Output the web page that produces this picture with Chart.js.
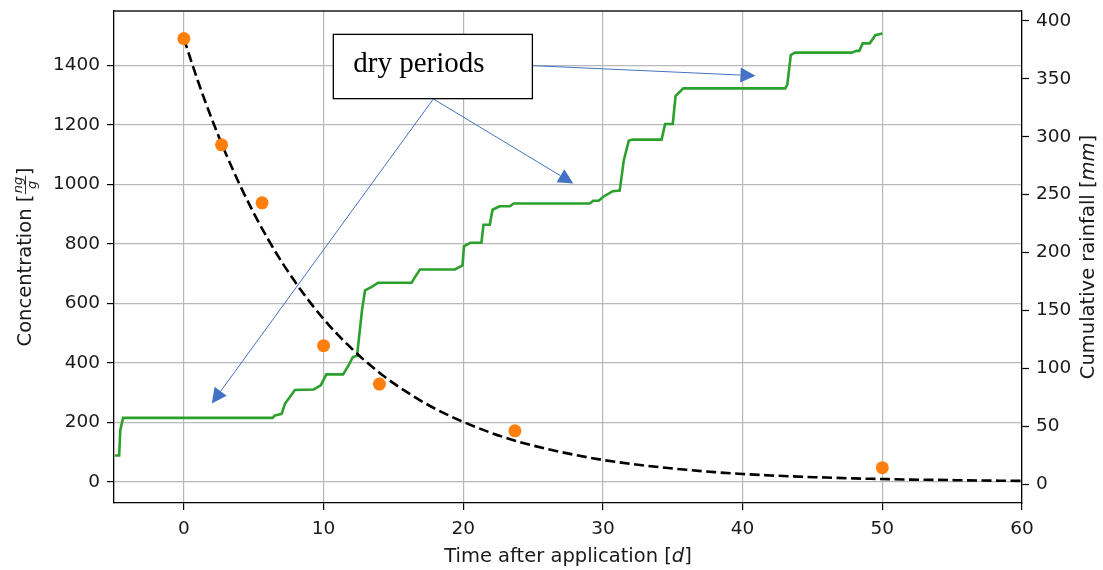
<!DOCTYPE html>
<html>
<head>
<meta charset="utf-8">
<script src="https://cdn.jsdelivr.net/npm/chart.js@4.4.1/dist/chart.umd.min.js"></script>
<style>
  html, body { margin: 0; padding: 0; background: #fff; }
  #wrap { width: 1103px; height: 570px; position: relative; }
</style>
</head>
<body>
<div id="wrap"><canvas id="chart"></canvas></div>
<script>
// measured residue concentration (ng/g) on sampling days
const sampleDays = [0, 2.7, 5.6, 10, 14, 23.7, 50];
const sampleConc = [1490, 1133, 938, 458, 329, 172, 48];

// first-order decay fit
const fitDays = [0, 1, 2, 3, 4, 5, 6, 7, 8, 9, 10, 11, 12, 13, 14, 15, 16, 17, 18, 19, 20,
                 22, 24, 26, 28, 30, 32, 34, 36, 38, 40, 42, 44, 46, 48, 50, 52, 54, 56, 58, 60];
const fitConc = [1490, 1348, 1220, 1104, 999, 904, 818, 740, 670, 606, 548, 496, 449, 406, 367, 332, 301, 272, 246, 223, 202,
                 165, 135, 111, 91, 74, 61, 50, 41, 33, 27, 22, 18, 15, 12, 10, 8, 7, 5.5, 4.5, 3.7];

// cumulative rainfall (mm)
const rainDays = [-4.95, -4.63, -4.55, -4.35, 6.35, 6.5, 7.0, 7.25, 7.5, 7.95, 9.3, 9.8, 10.2, 11.4, 11.8, 12.1, 12.4,
                  12.75, 12.97, 13.45, 13.9, 16.3, 16.5, 16.9, 19.4, 19.95, 20.05, 20.5, 21.3, 21.45, 21.9, 22.1, 22.6,
                  23.35, 23.6, 29.05, 29.3, 29.7, 30.0, 30.7, 31.2, 31.5, 31.85, 32.1, 34.2, 34.45, 35.0, 35.2, 35.75,
                  43.05, 43.2, 43.45, 43.75, 47.8, 48.15, 48.35, 48.6, 49.1, 49.5, 50.0];
const rainMm = [25, 25, 47, 57.5, 57.5, 59.5, 61, 70, 74, 81.5, 82, 85.5, 95, 95, 103, 110, 111,
                150, 167.5, 170.5, 174, 174, 178, 185.5, 185.5, 189, 205.5, 208.5, 208.5, 224, 224, 237, 240,
                240, 242.4, 242.4, 244.7, 244.7, 248, 253, 253.5, 280, 296.5, 297.5, 297.5, 311, 311, 335, 341.7,
                341.7, 345, 370.5, 372.5, 372.5, 374, 374, 380.5, 380.5, 387.5, 389];

const xTicks = [0, 10, 20, 30, 40, 50, 60];
const concTicks = [0, 200, 400, 600, 800, 1000, 1200, 1400];
const rainTicks = [0, 50, 100, 150, 200, 250, 300, 350, 400];

// callout, in day / concentration units
const noteText = 'dry periods';
const noteBox = { x0: 10.7, x1: 24.95, y0: 1504, y1: 1288 };
const noteAnchor = { x: 12.13, y: 1379 };
const noteArrows = [
  [24.95, 1399, 40.92, 1365],
  [17.86, 1287, 27.88, 1003],
  [17.86, 1287, 2.0, 264]
];

const sans = '"DejaVu Sans", sans-serif';
const textColor = '#1a1a1a';
const gridColor = '#b8b8b8';
const arrowColor = '#4472c4';
const titleSize = 19.5;

const pts = (xs, ys) => xs.map((v, i) => ({ x: v, y: ys[i] }));
const fixTicks = list => scale => { scale.ticks = list.map(v => ({ value: v })); };
// keep the plot box fixed: no extra room for half-labels
const fixSize = (w, h) => scale => {
  if (w) scale.width = w;
  if (h) scale.height = h;
  scale.paddingTop = scale.paddingBottom = scale.paddingLeft = scale.paddingRight = 0;
};

// draw [text, italic] pieces centred on x
function drawPieces(ctx, pieces, cx, y, size) {
  const fonts = pieces.map(p => (p[1] ? 'italic ' : '') + size + 'px ' + sans);
  let total = 0;
  pieces.forEach((p, i) => { ctx.font = fonts[i]; total += ctx.measureText(p[0]).width; });
  let x = cx - total / 2;
  ctx.textAlign = 'left';
  pieces.forEach((p, i) => {
    ctx.font = fonts[i];
    ctx.fillText(p[0], x, y);
    x += ctx.measureText(p[0]).width;
  });
}

const axisTitles = {
  id: 'axisTitles',
  afterDraw(chart) {
    const { ctx, chartArea: a } = chart;
    const midY = (a.top + a.bottom) / 2;
    ctx.save();
    ctx.fillStyle = textColor;
    ctx.strokeStyle = textColor;
    ctx.textBaseline = 'alphabetic';

    // top spine
    ctx.lineWidth = 1.3;
    ctx.beginPath();
    ctx.moveTo(a.left, a.top);
    ctx.lineTo(a.right, a.top);
    ctx.stroke();

    drawPieces(ctx, [['Time after application [', false], ['d', true], [']', false]], (a.left + a.right) / 2, a.bottom + 59, titleSize);

    // right title
    ctx.save();
    ctx.translate(a.right + 72, midY);
    ctx.rotate(-Math.PI / 2);
    drawPieces(ctx, [['Cumulative rainfall [', false], ['mm', true], [']', false]], 0, 0, titleSize);
    ctx.restore();

    // left title with ng/g fraction
    ctx.save();
    ctx.translate(a.left - 83, midY);
    ctx.rotate(-Math.PI / 2);
    const main = 'Concentration [';
    ctx.font = titleSize + 'px ' + sans;
    const wMain = ctx.measureText(main).width;
    const wClose = ctx.measureText(']').width;
    ctx.font = 'italic 13px ' + sans;
    const wNum = ctx.measureText('ng').width;
    const wDen = ctx.measureText('g').width;
    const wFrac = Math.max(wNum, wDen) + 3;
    let x = -(wMain + wFrac + wClose) / 2;
    ctx.textAlign = 'left';
    ctx.font = titleSize + 'px ' + sans;
    ctx.fillText(main, x, 0);
    x += wMain;
    ctx.font = 'italic 13px ' + sans;
    ctx.fillText('ng', x + (wFrac - wNum) / 2, -9.5);
    ctx.fillText('g', x + (wFrac - wDen) / 2, 4.5);
    ctx.lineWidth = 0.9;
    ctx.beginPath();
    ctx.moveTo(x + 0.5, -5.5);
    ctx.lineTo(x + wFrac - 0.5, -5.5);
    ctx.stroke();
    x += wFrac;
    ctx.font = titleSize + 'px ' + sans;
    ctx.fillText(']', x, 0);
    ctx.restore();

    ctx.restore();
  }
};

const callout = {
  id: 'callout',
  afterDatasetsDraw(chart) {
    const { ctx, scales } = chart;
    const px = v => scales.x.getPixelForValue(v);
    const py = v => scales.y.getPixelForValue(v);
    ctx.save();
    ctx.strokeStyle = arrowColor;
    ctx.fillStyle = arrowColor;
    ctx.lineWidth = 1;
    noteArrows.forEach(([x0, y0, x1, y1]) => {
      const sx = px(x0), sy = py(y0), ex = px(x1), ey = py(y1);
      const ang = Math.atan2(ey - sy, ex - sx);
      const len = 15, half = 7.5;
      const bx = ex - len * Math.cos(ang), by = ey - len * Math.sin(ang);
      ctx.beginPath();
      ctx.moveTo(sx, sy);
      ctx.lineTo(bx, by);
      ctx.stroke();
      ctx.beginPath();
      ctx.moveTo(ex, ey);
      ctx.lineTo(bx + half * Math.sin(ang), by - half * Math.cos(ang));
      ctx.lineTo(bx - half * Math.sin(ang), by + half * Math.cos(ang));
      ctx.closePath();
      ctx.fill();
    });

    const l = px(noteBox.x0), r = px(noteBox.x1), t = py(noteBox.y0), b = py(noteBox.y1);
    ctx.fillStyle = '#fff';
    ctx.fillRect(l, t, r - l, b - t);
    ctx.strokeStyle = '#000';
    ctx.lineWidth = 1.3;
    ctx.strokeRect(l, t, r - l, b - t);
    ctx.fillStyle = '#000';
    ctx.font = '29px "Liberation Serif", "Times New Roman", serif';
    ctx.textAlign = 'left';
    ctx.textBaseline = 'alphabetic';
    ctx.fillText(noteText, px(noteAnchor.x), py(noteAnchor.y));
    ctx.restore();
  }
};

const tickFont = { family: sans, size: 18.5 };
const plain = v => String(v);

new Chart(document.getElementById('chart'), {
  type: 'scatter',
  data: {
    datasets: [
      {
        data: pts(rainDays, rainMm),
        yAxisID: 'y1',
        showLine: true,
        borderColor: '#2ca02c',
        borderWidth: 2.6,
        pointRadius: 0,
        tension: 0,
        order: 3
      },
      {
        data: pts(fitDays, fitConc),
        yAxisID: 'y',
        showLine: true,
        borderColor: '#000',
        borderWidth: 2.6,
        borderDash: [10, 4.5],
        cubicInterpolationMode: 'monotone',
        pointRadius: 0,
        order: 2
      },
      {
        data: pts(sampleDays, sampleConc),
        yAxisID: 'y',
        pointRadius: 6.5,
        pointBackgroundColor: '#ff7f0e',
        pointBorderWidth: 0,
        order: 1
      }
    ]
  },
  options: {
    responsive: true,
    maintainAspectRatio: false,
    animation: false,
    layout: { padding: { top: 11, left: 0, right: 0, bottom: 0 } },
    plugins: { legend: { display: false }, tooltip: { enabled: false } },
    scales: {
      x: {
        type: 'linear',
        min: -5,
        max: 60,
        afterBuildTicks: fixTicks(xTicks),
        afterFit: fixSize(0, 67),
        grid: { color: gridColor, lineWidth: 1.2, tickLength: 7, tickColor: '#000', tickWidth: 1.2 },
        border: { display: true, color: '#000', width: 1.3 },
        ticks: { font: tickFont, color: textColor, padding: 8, autoSkip: false, maxRotation: 0, callback: plain }
      },
      y: {
        position: 'left',
        min: -70.6,
        max: 1582.5,
        afterBuildTicks: fixTicks(concTicks),
        afterFit: fixSize(114, 0),
        grid: { color: gridColor, lineWidth: 1.2, tickLength: 7, tickColor: '#000', tickWidth: 1.2 },
        border: { display: true, color: '#000', width: 1.3 },
        ticks: { font: tickFont, color: textColor, padding: 7, autoSkip: false, callback: plain }
      },
      y1: {
        position: 'right',
        min: -15.9,
        max: 408.4,
        afterBuildTicks: fixTicks(rainTicks),
        afterFit: fixSize(81, 0),
        grid: { drawOnChartArea: false, tickLength: 7, tickColor: '#000', tickWidth: 1.2 },
        border: { display: true, color: '#000', width: 1.3 },
        ticks: { font: tickFont, color: textColor, padding: 7, autoSkip: false, callback: plain }
      }
    }
  },
  plugins: [callout, axisTitles]
});
</script>
</body>
</html>
